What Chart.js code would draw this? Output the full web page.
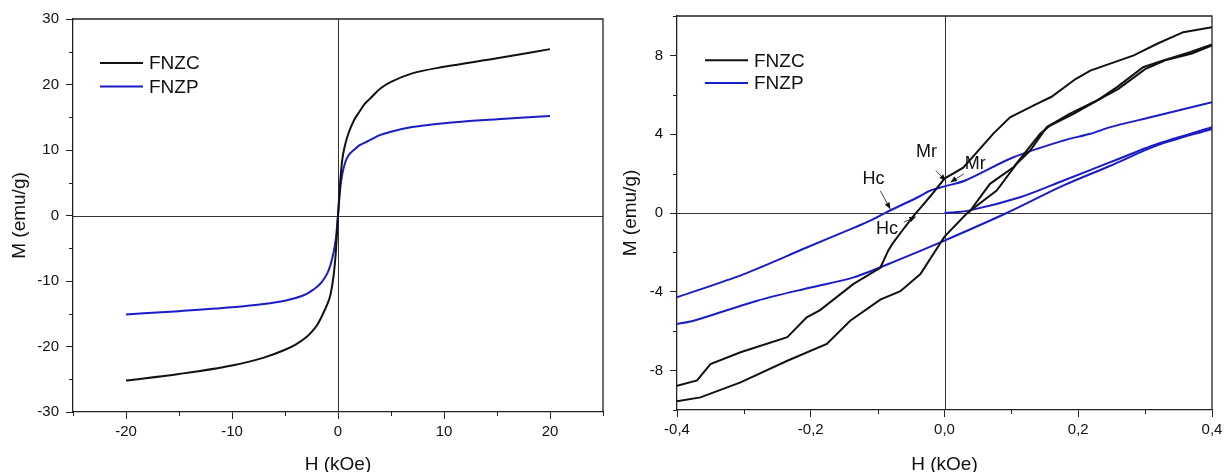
<!DOCTYPE html>
<html>
<head>
<meta charset="utf-8">
<script src="https://cdn.jsdelivr.net/npm/chart.js@4.4.1/dist/chart.umd.min.js"></script>
<style>
  html, body { margin: 0; padding: 0; background: #fff; }
  #wrap { position: relative; width: 1228px; height: 472px; }
  canvas { position: absolute; top: 0; }
</style>
</head>
<body>
<div id="wrap">
  <canvas id="left" width="614" height="472" style="left:0"></canvas>
  <canvas id="right" width="614" height="472" style="left:614px"></canvas>
</div>
<script>
// ---- left panel: full loop, H in kOe, M in emu/g
const leftH     = [-20, -15, -10, -7, -5, -4, -3, -2.5, -2, -1.5, -1, -0.7, -0.4, -0.2, 0, 0.2, 0.4, 0.7, 1, 1.5, 2, 2.5, 3, 4, 5, 7, 10, 15, 20];
const leftFNZC  = [-25.2, -24.2, -22.9, -21.7, -20.5, -19.7, -18.6, -17.8, -16.8, -15.3, -13.5, -12, -9, -5.5, 0, 5, 8.5, 11, 12.6, 14.5, 15.8, 17, 17.8, 19.4, 20.4, 21.7, 22.7, 24, 25.4];
const leftFNZP  = [-15.1, -14.6, -14, -13.5, -13, -12.6, -12, -11.5, -10.9, -10.1, -8.8, -7.5, -5.5, -3.5, 0, 4, 6.3, 8.2, 9.2, 10, 10.7, 11.1, 11.5, 12.3, 12.8, 13.5, 14.1, 14.7, 15.2];

// ---- right panel: low field zoom
const fnzcDescH = [0.4, 0.357, 0.318, 0.283, 0.218, 0.196, 0.16, 0.138, 0.098, 0.073, 0.028, 0, -0.02, -0.035, -0.045, -0.06, -0.078, -0.084, -0.096, -0.136, -0.186, -0.206, -0.235, -0.305, -0.35, -0.37, -0.4];
const fnzcDescM = [9.43, 9.18, 8.59, 8.0, 7.23, 6.8, 5.9, 5.54, 4.86, 4.03, 2.3, 1.75, 0.9, 0.3, -0.1, -0.75, -1.57, -1.9, -2.78, -3.6, -4.93, -5.3, -6.3, -7.07, -7.67, -8.5, -8.77];
const fnzcAscH  = [-0.4, -0.365, -0.305, -0.235, -0.176, -0.141, -0.096, -0.066, -0.036, 0, 0.034, 0.078, 0.108, 0.128, 0.153, 0.187, 0.228, 0.258, 0.297, 0.327, 0.367, 0.4];
const fnzcAscM  = [-9.56, -9.36, -8.6, -7.5, -6.65, -5.47, -4.4, -3.97, -3.1, -1.2, 0, 1.14, 2.5, 3.17, 4.36, 5.03, 5.71, 6.39, 7.4, 7.74, 8.16, 8.55];
const fnzcInitH = [0.036, 0.068, 0.103, 0.143, 0.158, 0.193, 0.228, 0.26, 0.3, 0.33, 0.37, 0.4];
const fnzcInitM = [0, 1.48, 2.32, 4.02, 4.44, 5.03, 5.71, 6.3, 7.3, 7.75, 8.1, 8.5];

const fnzpDescH = [0.4, 0.308, 0.248, 0.218, 0.178, 0.103, 0.031, 0, -0.021, -0.04, -0.087, -0.111, -0.134, -0.206, -0.3, -0.4];
const fnzpDescM = [5.62, 4.86, 4.36, 4.02, 3.68, 2.83, 1.65, 1.35, 1.14, 0.8, 0.03, -0.39, -0.73, -1.75, -3.1, -4.28];
const fnzpAscH  = [-0.4, -0.375, -0.28, -0.2, -0.136, -0.066, 0, 0.093, 0.178, 0.248, 0.318, 0.4];
const fnzpAscM  = [-5.63, -5.47, -4.45, -3.78, -3.27, -2.34, -1.4, 0, 1.4, 2.4, 3.43, 4.27];
const fnzpInitH = [0, 0.036, 0.113, 0.178, 0.248, 0.318, 0.4];
const fnzpInitM = [0, 0.12, 0.8, 1.65, 2.58, 3.5, 4.35];

// labels with arrows (text pos, arrow start, arrow end) in data units
const notes = [
  { text: 'Mr', at: [-0.027, 3.1],  from: [-0.013, 2.15], to: [0.002, 1.64] },
  { text: 'Mr', at: [0.046, 2.5],   from: [0.029, 1.99],  to: [0.009, 1.56] },
  { text: 'Hc', at: [-0.106, 1.73], from: [-0.096, 1.13], to: [-0.081, 0.2] },
  { text: 'Hc', at: [-0.086, -0.8], from: [-0.061, -0.47], to: [-0.043, -0.19] }
];

const BLACK = '#111111';
const BLUE = '#1c1cc4';
const FONT = '"Liberation Sans", Arial, sans-serif';
Chart.defaults.font.family = FONT;
Chart.defaults.color = '#111';

const pts = (xs, ys) => xs.map((x, i) => ({ x: x, y: ys[i] }));
const range = (a, b, n) => { const out = []; for (let i = a; i <= b; i++) out.push(i * n); return out; };

const boxPlugin = {
  id: 'box',
  beforeDatasetsDraw(chart) {
    const { ctx, chartArea: a, scales: { x, y } } = chart;
    const x0 = Math.round(x.getPixelForValue(0)) + 0.5;
    const y0 = Math.round(y.getPixelForValue(0)) + 0.5;
    ctx.save();
    ctx.strokeStyle = '#333';
    ctx.lineWidth = 1;
    ctx.beginPath();
    ctx.moveTo(x0, a.top); ctx.lineTo(x0, a.bottom);
    ctx.moveTo(a.left, y0); ctx.lineTo(a.right, y0);
    ctx.stroke();
    ctx.restore();
  },
  afterDraw(chart) {
    const { ctx, chartArea: a, scales: { x, y } } = chart;
    ctx.save();
    ctx.strokeStyle = '#222';
    ctx.lineWidth = 1.3;
    ctx.beginPath();
    ctx.moveTo(a.left, a.top); ctx.lineTo(a.right, a.top); ctx.lineTo(a.right, a.bottom);
    ctx.stroke();
    // minor ticks, shorter than the major ones
    ctx.lineWidth = 1;
    ctx.beginPath();
    x.ticks.forEach(t => {
      if (t.major) return;
      const p = Math.round(x.getPixelForValue(t.value)) + 0.5;
      ctx.moveTo(p, a.bottom); ctx.lineTo(p, a.bottom + 4);
    });
    y.ticks.forEach(t => {
      if (t.major) return;
      const p = Math.round(y.getPixelForValue(t.value)) + 0.5;
      ctx.moveTo(a.left, p); ctx.lineTo(a.left - 4, p);
    });
    ctx.stroke();
    ctx.restore();
  }
};

const legendPlugin = {
  id: 'hyLegend',
  afterDraw(chart, args, opts) {
    const { ctx, chartArea: a } = chart;
    ctx.save();
    ctx.font = '19px ' + FONT;
    ctx.textBaseline = 'middle';
    ctx.textAlign = 'left';
    opts.items.forEach((it, i) => {
      const yy = a.top + opts.y + i * opts.gap;
      ctx.strokeStyle = it.color;
      ctx.lineWidth = 2;
      ctx.beginPath();
      ctx.moveTo(a.left + opts.x, yy); ctx.lineTo(a.left + opts.x + opts.len, yy);
      ctx.stroke();
      ctx.fillStyle = '#111';
      ctx.fillText(it.label, a.left + opts.x + opts.len + 6, yy + 1);
    });
    ctx.restore();
  }
};

const notesPlugin = {
  id: 'notes',
  afterDatasetsDraw(chart, args, opts) {
    if (!opts.items) return;
    const { ctx, scales: { x, y } } = chart;
    const px = p => [x.getPixelForValue(p[0]), y.getPixelForValue(p[1])];
    ctx.save();
    ctx.font = '18px ' + FONT;
    ctx.textAlign = 'center';
    ctx.textBaseline = 'middle';
    opts.items.forEach(n => {
      const [tx, ty] = px(n.at);
      ctx.fillStyle = '#111';
      ctx.fillText(n.text, tx, ty);
      const [x1, y1] = px(n.from), [x2, y2] = px(n.to);
      const ang = Math.atan2(y2 - y1, x2 - x1);
      ctx.strokeStyle = '#444';
      ctx.lineWidth = 1;
      ctx.beginPath(); ctx.moveTo(x1, y1); ctx.lineTo(x2, y2); ctx.stroke();
      ctx.fillStyle = '#111';
      ctx.beginPath();
      ctx.moveTo(x2, y2);
      ctx.lineTo(x2 - 7 * Math.cos(ang - 0.4), y2 - 7 * Math.sin(ang - 0.4));
      ctx.lineTo(x2 - 7 * Math.cos(ang + 0.4), y2 - 7 * Math.sin(ang + 0.4));
      ctx.closePath(); ctx.fill();
    });
    ctx.restore();
  }
};

function axis(o) {
  return {
    type: 'linear',
    min: o.min, max: o.max,
    afterBuildTicks: s => { s.ticks = o.ticks.map(v => ({ value: v, major: o.isMajor(v) })); },
    afterFit: s => { if (o.width) s.width = o.width; if (o.height) s.height = o.height; },
    grid: {
      drawOnChartArea: false,
      drawTicks: true,
      tickLength: 7,
      tickWidth: 1,
      tickColor: c => (c.tick && c.tick.major ? '#222' : 'rgba(0,0,0,0)')
    },
    border: { display: true, color: '#222', width: 1.3 },
    ticks: {
      autoSkip: false, maxRotation: 0, padding: o.pad,
      font: { size: 15 }, color: '#111',
      callback: (v, i, t) => (t[i].major ? o.fmt(v) : '')
    },
    title: { display: true, text: o.title, font: { size: 19 }, color: '#111', padding: o.tpad }
  };
}

function line(data, color, extra) {
  return Object.assign({ data: data, borderColor: color, borderWidth: 2, pointRadius: 0, showLine: true, fill: false }, extra || {});
}

new Chart(document.getElementById('left'), {
  type: 'scatter',
  data: {
    datasets: [
      line(pts(leftH, leftFNZC), BLACK, { cubicInterpolationMode: 'monotone' }),
      line(pts(leftH, leftFNZP), BLUE, { cubicInterpolationMode: 'monotone' })
    ]
  },
  options: {
    responsive: false, animation: false, events: [],
    layout: { padding: { top: 19, right: 11, left: 0, bottom: 0 } },
    scales: {
      x: axis({ min: -25, max: 25, ticks: range(-5, 5, 5), isMajor: v => v % 10 === 0 && Math.abs(v) < 25,
                fmt: v => String(v), height: 60, pad: 4, title: 'H (kOe)', tpad: { bottom: -4 } }),
      y: axis({ min: -30, max: 30, ticks: range(-6, 6, 5), isMajor: v => v % 10 === 0,
                fmt: v => String(v), width: 73, pad: 7, title: 'M (emu/g)', tpad: { top: 8 } })
    },
    plugins: {
      legend: { display: false }, tooltip: { enabled: false },
      hyLegend: { x: 27, y: 44, gap: 23.4, len: 43, items: [{ label: 'FNZC', color: BLACK }, { label: 'FNZP', color: BLUE }] },
      notes: {}
    }
  },
  plugins: [boxPlugin, legendPlugin, notesPlugin]
});

new Chart(document.getElementById('right'), {
  type: 'scatter',
  data: {
    datasets: [
      line(pts(fnzcDescH, fnzcDescM), BLACK),
      line(pts(fnzcAscH, fnzcAscM), BLACK),
      line(pts(fnzcInitH, fnzcInitM), BLACK),
      line(pts(fnzpDescH, fnzpDescM), BLUE, { tension: 0.3 }),
      line(pts(fnzpAscH, fnzpAscM), BLUE, { tension: 0.3 }),
      line(pts(fnzpInitH, fnzpInitM), BLUE, { tension: 0.3 })
    ]
  },
  options: {
    responsive: false, animation: false, events: [],
    layout: { padding: { top: 15, right: 16, left: 0, bottom: 0 } },
    scales: {
      x: axis({ min: -0.4, max: 0.4, ticks: range(-4, 4, 1).map(v => v / 10), isMajor: v => Math.round(v * 10) % 2 === 0,
                fmt: v => v.toFixed(1).replace('.', ','), height: 62, pad: 4, title: 'H (kOe)', tpad: { bottom: -4 } }),
      y: axis({ min: -10, max: 10, ticks: range(-5, 5, 2), isMajor: v => v % 4 === 0,
                fmt: v => String(v), width: 63, pad: 7, title: 'M (emu/g)', tpad: { top: 5 } })
    },
    plugins: {
      legend: { display: false }, tooltip: { enabled: false },
      hyLegend: { x: 28, y: 44.3, gap: 22.7, len: 43, items: [{ label: 'FNZC', color: BLACK }, { label: 'FNZP', color: BLUE }] },
      notes: { items: notes }
    }
  },
  plugins: [boxPlugin, legendPlugin, notesPlugin]
});
</script>
</body>
</html>
